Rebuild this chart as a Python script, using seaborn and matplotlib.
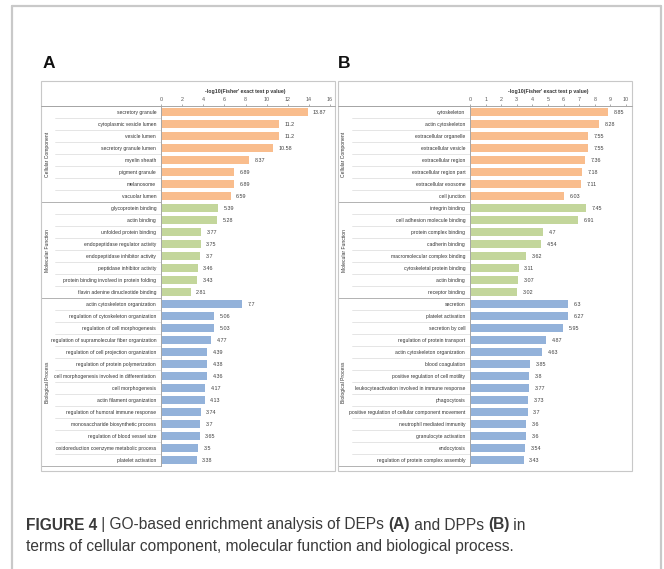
import matplotlib
matplotlib.use("Agg")
import matplotlib.pyplot as plt
import matplotlib.transforms as mtransforms
from matplotlib.lines import Line2D
from matplotlib.patches import Rectangle
import seaborn as sns
import pandas as pd

# ---------------- data ----------------
groups = ["Cellular Component", "Molecular Function", "Biological Process"]

a_cc_terms = ["secretory granule", "cytoplasmic vesicle lumen", "vesicle lumen",
              "secretory granule lumen", "myelin sheath", "pigment granule",
              "melanosome", "vacuolar lumen"]
a_cc_vals = [13.87, 11.2, 11.2, 10.58, 8.37, 6.89, 6.89, 6.59]
a_mf_terms = ["glycoprotein binding", "actin binding", "unfolded protein binding",
              "endopeptidase regulator activity", "endopeptidase inhibitor activity",
              "peptidase inhibitor activity", "protein binding involved in protein folding",
              "flavin adenine dinucleotide binding"]
a_mf_vals = [5.39, 5.28, 3.77, 3.75, 3.7, 3.46, 3.43, 2.81]
a_bp_terms = ["actin cytoskeleton organization", "regulation of cytoskeleton organization",
              "regulation of cell morphogenesis", "regulation of supramolecular fiber organization",
              "regulation of cell projection organization", "regulation of protein polymerization",
              "cell morphogenesis involved in differentiation", "cell morphogenesis",
              "actin filament organization", "regulation of humoral immune response",
              "monosaccharide biosynthetic process", "regulation of blood vessel size",
              "oxidoreduction coenzyme metabolic process", "platelet activation"]
a_bp_vals = [7.7, 5.06, 5.03, 4.77, 4.39, 4.38, 4.36, 4.17, 4.13, 3.74, 3.7, 3.65, 3.5, 3.38]

b_cc_terms = ["cytoskeleton", "actin cytoskeleton", "extracellular organelle",
              "extracellular vesicle", "extracellular region", "extracellular region part",
              "extracellular exosome", "cell junction"]
b_cc_vals = [8.85, 8.28, 7.55, 7.55, 7.36, 7.18, 7.11, 6.03]
b_mf_terms = ["integrin binding", "cell adhesion molecule binding", "protein complex binding",
              "cadherin binding", "macromolecular complex binding", "cytoskeletal protein binding",
              "actin binding", "receptor binding"]
b_mf_vals = [7.45, 6.91, 4.7, 4.54, 3.62, 3.11, 3.07, 3.02]
b_bp_terms = ["secretion", "platelet activation", "secretion by cell",
              "regulation of protein transport", "actin cytoskeleton organization",
              "blood coagulation", "positive regulation of cell motility",
              "leukocyteactivation involved in immune response", "phagocytosis",
              "positive regulation of cellular component movement",
              "neutrophil mediated immunity", "granulocyte activation", "endocytosis",
              "regulation of protein complex assembly"]
b_bp_vals = [6.3, 6.27, 5.95, 4.87, 4.63, 3.85, 3.8, 3.77, 3.73, 3.7, 3.6, 3.6, 3.54, 3.43]

a_ticks = [0, 2, 4, 6, 8, 10, 12, 14, 16]
b_ticks = [0, 1, 2, 3, 4, 5, 6, 7, 8, 9, 10]
xlabel = "-log10(Fisher' exact test p value)"
panel_letters = ["A", "B"]
caption1 = [("FIGURE 4", "bold"), (" | GO-based enrichment analysis of DEPs ", "normal"),
            ("(A)", "bold"), (" and DPPs ", "normal"), ("(B)", "bold"), (" in", "normal")]
caption2 = [("terms of cellular component, molecular function and biological process.", "normal")]

palette = {"Cellular Component": "#F9BD8D",
           "Molecular Function": "#C3D69B",
           "Biological Process": "#93B2DA"}


def make_df(cc_t, cc_v, mf_t, mf_v, bp_t, bp_v):
    return pd.DataFrame({
        "term": cc_t + mf_t + bp_t,
        "value": cc_v + mf_v + bp_v,
        "group": [groups[0]] * len(cc_t) + [groups[1]] * len(mf_t) + [groups[2]] * len(bp_t),
    })


df_a = make_df(a_cc_terms, a_cc_vals, a_mf_terms, a_mf_vals, a_bp_terms, a_bp_vals)
df_b = make_df(b_cc_terms, b_cc_vals, b_mf_terms, b_mf_vals, b_bp_terms, b_bp_vals)

# ---------------- figure ----------------
sns.set_style("white")
W, H = 664, 569
fig = plt.figure(figsize=(W / 100, H / 100), dpi=100)
fig.patch.set_facecolor("white")

small_font = ["Liberation Sans Narrow", "Liberation Sans", "DejaVu Sans"]


def fx(px):
    return px / W


def fy(py):
    return 1 - py / H


# outer frame (left, top, right)
frame_c = "#C9C9C9"
fig.add_artist(Line2D([fx(12), fx(12)], [fy(569), fy(6)], color=frame_c, lw=1.6, transform=fig.transFigure))
fig.add_artist(Line2D([fx(12), fx(661)], [fy(6), fy(6)], color=frame_c, lw=1.6, transform=fig.transFigure))
fig.add_artist(Line2D([fx(661), fx(661)], [fy(569), fy(6)], color=frame_c, lw=1.6, transform=fig.transFigure))

panels = [
    dict(df=df_a, box=(41, 335), ax_x=(161, 330), ticks=a_ticks, letter_x=43, group_x=47, inner_x=55),
    dict(df=df_b, box=(338, 632), ax_x=(470, 626), ticks=b_ticks, letter_x=338, group_x=344, inner_x=352),
]
ax_top, ax_bot = 106, 466
box_top, box_bot = 81, 471

for p, letter in zip(panels, panel_letters):
    df = p["df"]
    x0, x1 = p["ax_x"]
    ax = fig.add_axes([fx(x0), fy(ax_bot), fx(x1) - fx(x0), fy(ax_top) - fy(ax_bot)])
    sns.barplot(data=df, y="term", x="value", hue="group", palette=palette,
                dodge=False, legend=False, width=0.72, ax=ax, orient="h",
                edgecolor="none", saturation=1)
    ax.set_xlim(p["ticks"][0], p["ticks"][-1])
    ax.set_ylim(len(df) - 0.5, -0.5)
    ax.set_xticks(p["ticks"])
    ax.xaxis.tick_top()
    ax.xaxis.set_label_position("top")
    ax.set_xlabel(xlabel, fontsize=3.7, fontweight="bold", color="#333333", labelpad=3,
                  family=small_font)
    ax.set_ylabel("")
    ax.tick_params(axis="x", labelsize=3.9, colors="#8a8a8a", labelcolor="#595959",
                   length=1.6, width=0.5, pad=1.5, direction="out")
    ax.tick_params(axis="y", labelsize=3.6, length=0, pad=3.5, labelcolor="#333333")
    for lab in ax.get_yticklabels() + ax.get_xticklabels():
        lab.set_family(small_font)
    for s in ["top", "right", "bottom"]:
        ax.spines[s].set_visible(False)
    ax.spines["left"].set_color("#A6A6A6")
    ax.spines["left"].set_linewidth(0.7)
    ax.set_facecolor("none")

    for cont in ax.containers:
        ax.bar_label(cont, fmt="%g", padding=4, fontsize=3.9, color="#404040",
                     family=["Liberation Sans", "DejaVu Sans"])

    # separators
    btrans = mtransforms.blended_transform_factory(fig.transFigure, ax.transData)
    n = len(df)
    gcounts = df["group"].value_counts().reindex(groups).tolist()
    bounds = [-0.5]
    for c in gcounts:
        bounds.append(bounds[-1] + c)
    for i in range(n + 1):
        yb = i - 0.5
        if yb in bounds:
            ax.add_line(Line2D([fx(p["box"][0]), fx(x0)], [yb, yb], color="#A6A6A6",
                               lw=0.6, transform=btrans, clip_on=False))
        else:
            ax.add_line(Line2D([fx(p["inner_x"]), fx(x0)], [yb, yb], color="#DADADA",
                               lw=0.5, transform=btrans, clip_on=False))
    for gi, g in enumerate(groups):
        ymid = (bounds[gi] + bounds[gi + 1]) / 2
        ax.text(fx(p["group_x"]), ymid, g, rotation=90, ha="center", va="center",
                fontsize=3.6, color="#333333", transform=btrans, family=small_font)

    # top axis line across the whole panel box
    fig.add_artist(Line2D([fx(p["box"][0]), fx(p["box"][1])], [fy(ax_top), fy(ax_top)],
                          color="#A6A6A6", lw=0.7, transform=fig.transFigure))
    # panel box
    bx0, bx1 = p["box"]
    fig.add_artist(Rectangle((fx(bx0), fy(box_bot)), fx(bx1) - fx(bx0), fy(box_top) - fy(box_bot),
                             fill=False, edgecolor="#C8C8C8", lw=0.8, transform=fig.transFigure))
    # panel letter
    fig.text(fx(p["letter_x"]), fy(63), letter, fontsize=12.5, fontweight="bold",
             ha="left", va="center", family=["Liberation Sans", "DejaVu Sans"], color="#111111")

# caption with mixed weights
renderer = fig.canvas.get_renderer()


def rich_line(x_px, y_px, pieces, size):
    x = fx(x_px)
    for txt, wt in pieces:
        t = fig.text(x, fy(y_px), txt, fontsize=size, fontweight=wt, ha="left", va="center",
                     color="#3a3a3a", family=["Liberation Sans", "DejaVu Sans"])
        bb = t.get_window_extent(renderer)
        x += bb.width / W


rich_line(26, 525, caption1, 11.2)
rich_line(26, 547, caption2, 11.2)

fig.savefig("out.png", dpi=100, facecolor="white")
